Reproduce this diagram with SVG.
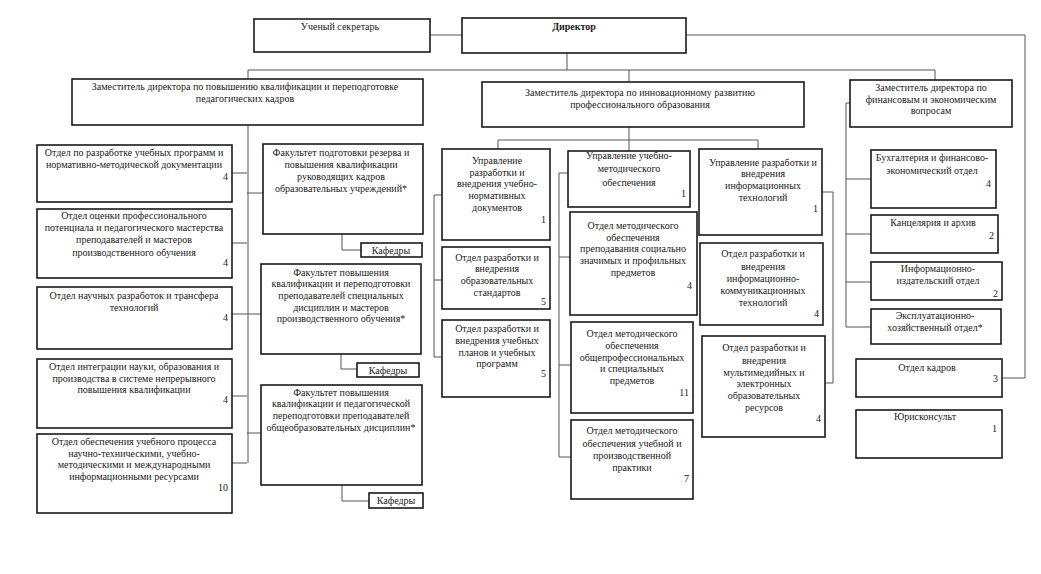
<svg xmlns="http://www.w3.org/2000/svg" width="1041" height="574" viewBox="0 0 1041 574">
<style>
.b{fill:#fff;stroke:#1a1a1a;stroke-width:1.6}
.c{fill:none;stroke:#555;stroke-width:1}
text{font-family:"Liberation Serif","Times New Roman",serif;font-size:10px;fill:#1a1a1a}
.m{text-anchor:middle}
.r{text-anchor:end}
.bold{font-weight:bold}
</style>
<rect x="0" y="0" width="1041" height="574" fill="#fff"/>
<g id="connectors">
<path class="c" d="M430,35H462 M686,35H1025V378H1002"/>
<path class="c" d="M567,53V70 M248,70H935 M248,70V79 M629,70V82 M935,70V80"/>
<path class="c" d="M248,125V463 M232,173H247 M232,243H247 M232,314H261 M232,396H247 M232,463H247 M247,193H263 M247,433H261"/>
<path class="c" d="M342,234V250H361 M341,354V369H357 M342,485V501H369"/>
<path class="c" d="M629,127V140 M498,140H758 M498,140V149 M629,140V151 M758,140V149"/>
<path class="c" d="M434,195V357 M434,195H442 M434,280H442 M434,357H442"/>
<path class="c" d="M559,173V457 M559,173H568 M559,257H570 M559,365H571 M559,457H571"/>
<path class="c" d="M833,192V383 M822,192H833 M825,383H833"/>
<path class="c" d="M846,103V327 M846,103H850 M846,179H871 M846,234H871 M846,282H871 M846,327H871"/>
</g>
<g id="secretary"><rect class="b" x="254" y="19" width="176" height="33"/><text class="m" x="340" y="30">Ученый секретарь</text></g>
<g id="director"><rect class="b" x="462" y="18" width="224" height="35"/><text class="m bold" x="574" y="30">Директор</text></g>
<g id="dep-left"><rect class="b" x="72" y="79" width="351" height="46"/><text class="m" x="245" y="90">Заместитель директора по повышению квалификации и переподготовке</text><text class="m" x="245" y="102">педагогических кадров</text></g>
<g id="dep-mid"><rect class="b" x="482" y="82" width="322" height="45"/><text class="m" x="640" y="96">Заместитель директора по инновационному развитию</text><text class="m" x="640" y="108">профессионального образования</text></g>
<g id="dep-right"><rect class="b" x="850" y="80" width="162" height="47"/><text class="m" x="931" y="91">Заместитель директора по</text><text class="m" x="931" y="103">финансовым и экономическим</text><text class="m" x="931" y="114">вопросам</text></g>
<g id="l1"><rect class="b" x="37" y="145" width="195" height="57"/><text class="m" x="134" y="156">Отдел по разработке учебных программ и</text><text class="m" x="134" y="168">нормативно-методической документации</text><text class="r" x="228" y="180">4</text></g>
<g id="l2"><rect class="b" x="37" y="209" width="195" height="69"/><text class="m" x="134" y="219">Отдел оценки профессионального</text><text class="m" x="134" y="231">потенциала и педагогического мастерства</text><text class="m" x="134" y="243">преподавателей и мастеров</text><text class="m" x="134" y="256">производственного обучения</text><text class="r" x="228" y="266">4</text></g>
<g id="l3"><rect class="b" x="37" y="287" width="195" height="62"/><text class="m" x="134" y="299">Отдел научных разработок и трансфера</text><text class="m" x="134" y="311">технологий</text><text class="r" x="228" y="321">4</text></g>
<g id="l4"><rect class="b" x="37" y="359" width="195" height="69"/><text class="m" x="134" y="370">Отдел интеграции науки, образования и</text><text class="m" x="134" y="382">производства в системе непрерывного</text><text class="m" x="134" y="393">повышения квалификации</text><text class="r" x="228" y="403">4</text></g>
<g id="l5"><rect class="b" x="37" y="434" width="195" height="79"/><text class="m" x="134" y="445">Отдел обеспечения учебного процесса</text><text class="m" x="134" y="457">научно-техническими, учебно-</text><text class="m" x="134" y="468">методическими и международными</text><text class="m" x="134" y="480">информационными ресурсами</text><text class="r" x="228" y="491">10</text></g>
<g id="f1"><rect class="b" x="263" y="144" width="160" height="90"/><text class="m" x="341" y="156">Факультет подготовки резерва и</text><text class="m" x="341" y="168">повышения квалификации</text><text class="m" x="341" y="180">руководящих кадров</text><text class="m" x="341" y="192">образовательных учреждений*</text></g>
<g id="k1"><rect class="b" x="361" y="243" width="61" height="14"/><text class="m" x="391" y="254">Кафедры</text></g>
<g id="f2"><rect class="b" x="261" y="264" width="160" height="90"/><text class="m" x="341" y="276">Факультет повышения</text><text class="m" x="341" y="287">квалификации и переподготовки</text><text class="m" x="341" y="299">преподавателей специальных</text><text class="m" x="341" y="311">дисциплин и мастеров</text><text class="m" x="341" y="322">производственного обучения*</text></g>
<g id="k2"><rect class="b" x="357" y="363" width="62" height="14"/><text class="m" x="388" y="374">Кафедры</text></g>
<g id="f3"><rect class="b" x="261" y="385" width="161" height="100"/><text class="m" x="341" y="396">Факультет повышения</text><text class="m" x="341" y="407">квалификации и педагогической</text><text class="m" x="341" y="419">переподготовки преподавателей</text><text class="m" x="341" y="431">общеобразовательных дисциплин*</text></g>
<g id="k3"><rect class="b" x="369" y="493" width="54" height="15"/><text class="m" x="396" y="504">Кафедры</text></g>
<g id="ma"><rect class="b" x="442" y="149" width="108" height="91"/><text class="m" x="497" y="164">Управление</text><text class="m" x="497" y="176">разработки и</text><text class="m" x="497" y="187">внедрения учебно-</text><text class="m" x="497" y="199">нормативных</text><text class="m" x="497" y="211">документов</text><text class="r" x="546" y="223">1</text></g>
<g id="ma1"><rect class="b" x="442" y="247" width="108" height="62"/><text class="m" x="497" y="261">Отдел разработки и</text><text class="m" x="497" y="272">внедрения</text><text class="m" x="497" y="284">образовательных</text><text class="m" x="497" y="296">стандартов</text><text class="r" x="546" y="305">5</text></g>
<g id="ma2"><rect class="b" x="442" y="320" width="108" height="77"/><text class="m" x="497" y="332">Отдел разработки и</text><text class="m" x="497" y="344">внедрения учебных</text><text class="m" x="497" y="356">планов и учебных</text><text class="m" x="497" y="367">программ</text><text class="r" x="546" y="377">5</text></g>
<g id="mb"><rect class="b" x="568" y="151" width="122" height="56"/><text class="m" x="629" y="159">Управление учебно-</text><text class="m" x="629" y="172">методического</text><text class="m" x="629" y="186">обеспечения</text><text class="r" x="686" y="197">1</text></g>
<g id="mb1"><rect class="b" x="570" y="212" width="127" height="103"/><text class="m" x="633" y="229">Отдел методического</text><text class="m" x="633" y="241">обеспечения</text><text class="m" x="633" y="252">преподавания социально</text><text class="m" x="633" y="264">значимых и профильных</text><text class="m" x="633" y="276">предметов</text><text class="r" x="692" y="289">4</text></g>
<g id="mb2"><rect class="b" x="571" y="322" width="122" height="91"/><text class="m" x="632" y="337">Отдел методического</text><text class="m" x="632" y="349">обеспечения</text><text class="m" x="632" y="361">общепрофессиональных</text><text class="m" x="632" y="372">и специальных</text><text class="m" x="632" y="384">предметов</text><text class="r" x="689" y="396">11</text></g>
<g id="mb3"><rect class="b" x="571" y="420" width="122" height="79"/><text class="m" x="632" y="434">Отдел методического</text><text class="m" x="632" y="447">обеспечения учебной и</text><text class="m" x="632" y="459">производственной</text><text class="m" x="632" y="471">практики</text><text class="r" x="689" y="482">7</text></g>
<g id="mc"><rect class="b" x="699" y="149" width="123" height="86"/><text class="m" x="763" y="166">Управление разработки и</text><text class="m" x="763" y="177">внедрения</text><text class="m" x="763" y="189">информационных</text><text class="m" x="763" y="201">технологий</text><text class="r" x="818" y="212">1</text></g>
<g id="mc1"><rect class="b" x="700" y="243" width="123" height="82"/><text class="m" x="763" y="257">Отдел разработки и</text><text class="m" x="763" y="270">внедрения</text><text class="m" x="763" y="282">информационно-</text><text class="m" x="763" y="294">коммуникационных</text><text class="m" x="763" y="306">технологий</text><text class="r" x="819" y="317">4</text></g>
<g id="mc2"><rect class="b" x="702" y="336" width="123" height="101"/><text class="m" x="764" y="351">Отдел разработки и</text><text class="m" x="764" y="364">внедрения</text><text class="m" x="764" y="376">мультимедийных и</text><text class="m" x="764" y="387">электронных</text><text class="m" x="764" y="399">образовательных</text><text class="m" x="764" y="411">ресурсов</text><text class="r" x="821" y="422">4</text></g>
<g id="r1"><rect class="b" x="871" y="150" width="125" height="58"/><text class="m" x="932" y="161">Бухгалтерия и финансово-</text><text class="m" x="932" y="174">экономический отдел</text><text class="r" x="991" y="187">4</text></g>
<g id="r2"><rect class="b" x="871" y="215" width="127" height="38"/><text class="m" x="933" y="226">Канцелярия и архив</text><text class="r" x="994" y="239">2</text></g>
<g id="r3"><rect class="b" x="871" y="262" width="131" height="38"/><text class="m" x="938" y="272">Информационно-</text><text class="m" x="938" y="284">издательский отдел</text><text class="r" x="998" y="297">2</text></g>
<g id="r4"><rect class="b" x="871" y="309" width="130" height="35"/><text class="m" x="935" y="319">Эксплуатационно-</text><text class="m" x="935" y="331">хозяйственный отдел*</text></g>
<g id="r5"><rect class="b" x="856" y="359" width="146" height="38"/><text class="m" x="927" y="371">Отдел кадров</text><text class="r" x="998" y="382">3</text></g>
<g id="r6"><rect class="b" x="856" y="410" width="146" height="48"/><text class="m" x="925" y="420">Юрисконсульт</text><text class="r" x="997" y="432">1</text></g>
</svg>
